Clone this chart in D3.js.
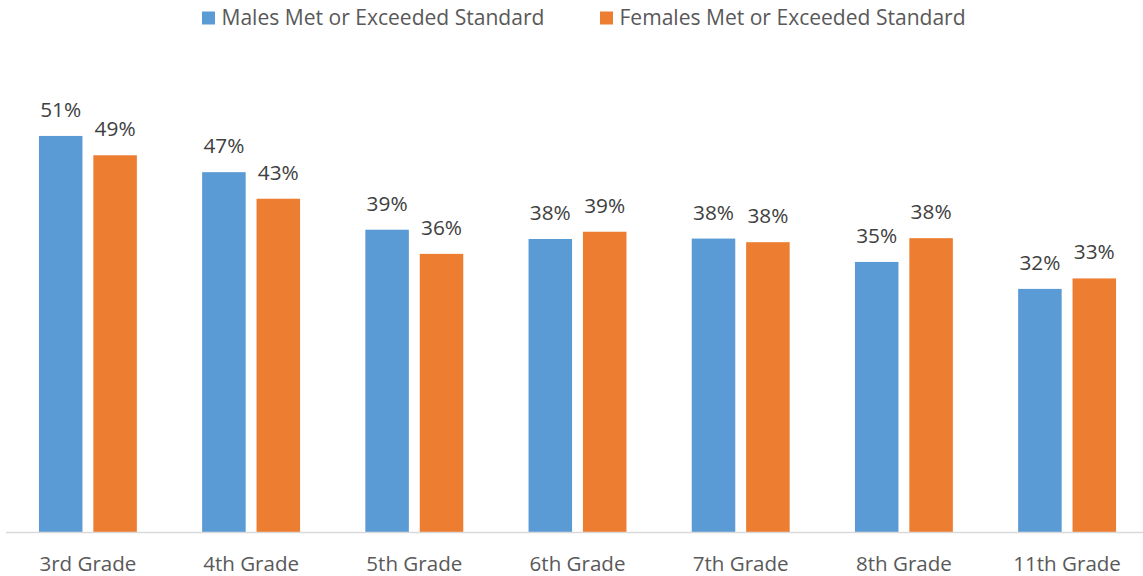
<!DOCTYPE html>
<html>
<head>
<meta charset="utf-8">
<script src="https://cdn.jsdelivr.net/npm/d3@7"></script>
<style>
  html, body { margin: 0; padding: 0; background: #fff; }
  svg { display: block; }
  text { font-family: "Open Sans", Lato, sans-serif; }
</style>
</head>
<body>
<svg id="chart" width="1143" height="576"></svg>
<script>
const categories = ["3rd Grade", "4th Grade", "5th Grade", "6th Grade", "7th Grade", "8th Grade", "11th Grade"];
const seriesNames = ["Males Met or Exceeded Standard", "Females Met or Exceeded Standard"];
const males   = [51.1, 46.6, 39.45, 38.3, 38.35, 35.45, 32.1];
const females = [48.7, 43.3, 36.45, 39.2, 37.9, 38.4, 33.4];
const colors = ["#5B9BD5", "#ED7D31"];

const W = 1143, H = 576;
const svg = d3.select("#chart");

// fit a font size so that a sample string gets a target width
function fitSize(sample, target, base) {
  const t = svg.append("text").style("font-size", base + "px").text(sample);
  const w = t.node().getComputedTextLength();
  t.remove();
  return base * target / w;
}
const legendSize = fitSize(seriesNames[0], 323, 20);
const catSize = fitSize(categories[0], 97, 20);
const lblSize = fitSize("51%", 41, 20);

const baseY = 532;
const x0 = d3.scaleBand().domain(categories).range([6.3, 6.3 + 7 * 163.2])
  .paddingInner(0.4).paddingOuter(0.2);
const x1 = d3.scaleBand().domain(["m", "f"]).range([0, x0.bandwidth()]).paddingInner(0.2);
const y = d3.scaleLinear().domain([1.9, 60]).range([baseY, baseY - 8.05 * (60 - 1.9)]);

const rows = categories.map((c, i) => ({ cat: c, vals: [
  { key: "m", v: males[i], color: colors[0] },
  { key: "f", v: females[i], color: colors[1] }
]}));

const xAxis = d3.axisBottom(x0).tickSize(0).tickPadding(0);
const gAxis = svg.append("g").attr("transform", `translate(0,${baseY})`).call(xAxis);
gAxis.select(".domain").remove();
gAxis.selectAll("text")
  .attr("dy", null)
  .attr("y", 38.7)
  .attr("fill", "#595959")
  .style("font-size", catSize + "px")
  .style("font-family", "'Open Sans', Lato, sans-serif");

const groups = svg.append("g").selectAll("g").data(rows).join("g")
  .attr("transform", d => `translate(${x0(d.cat)},0)`);

groups.selectAll("rect").data(d => d.vals).join("rect")
  .attr("x", d => x1(d.key))
  .attr("width", x1.bandwidth())
  .attr("y", d => y(d.v))
  .attr("height", d => baseY - y(d.v))
  .attr("fill", d => d.color);

groups.selectAll("text.lbl").data(d => d.vals).join("text")
  .attr("class", "lbl")
  .attr("x", d => x1(d.key) + x1.bandwidth() / 2)
  .attr("y", d => y(d.v) - 19)
  .attr("text-anchor", "middle")
  .attr("fill", "#404040")
  .style("font-size", lblSize + "px")
  .text(d => Math.round(d.v) + "%");

svg.append("line")
  .attr("x1", 6).attr("x2", W)
  .attr("y1", baseY + 0.5).attr("y2", baseY + 0.5)
  .attr("stroke", "#D9D9D9").attr("stroke-width", 1.5);

const legendX = [202, 600];
const lg = svg.append("g").selectAll("g").data(seriesNames).join("g")
  .attr("transform", (d, i) => `translate(${legendX[i]},0)`);
lg.append("rect").attr("x", 0).attr("y", 11.5).attr("width", 13).attr("height", 13)
  .attr("fill", (d, i) => colors[i]);
lg.append("text").attr("x", 19.5).attr("y", 25)
  .attr("fill", "#595959")
  .style("font-size", legendSize + "px")
  .text(d => d);
</script>
</body>
</html>
